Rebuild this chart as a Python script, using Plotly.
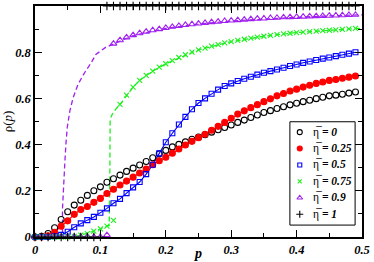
import plotly.graph_objects as go

# simulation abscissae (every 0.01)
p_sim = [round(0.01 * i, 2) for i in range(50)]

rho_eta0 = [0.0, 0.003, 0.015, 0.04, 0.076, 0.109, 0.138, 0.159, 0.18, 0.20,
            0.217, 0.237, 0.252, 0.268, 0.284, 0.298, 0.312, 0.327, 0.343, 0.36,
            0.375, 0.39, 0.401, 0.412, 0.423, 0.433, 0.443, 0.454, 0.464, 0.474,
            0.485, 0.496, 0.506, 0.517, 0.528, 0.539, 0.547, 0.556, 0.564, 0.572,
            0.579, 0.586, 0.592, 0.599, 0.605, 0.611, 0.614, 0.618, 0.623, 0.628]

rho_eta025 = [0.0, 0.0, 0.005, 0.02, 0.047, 0.07, 0.098, 0.119, 0.132, 0.15,
              0.167, 0.188, 0.207, 0.225, 0.242, 0.259, 0.277, 0.294, 0.313, 0.33,
              0.345, 0.363, 0.381, 0.398, 0.414, 0.43, 0.445, 0.462, 0.479, 0.496,
              0.514, 0.532, 0.546, 0.56, 0.573, 0.586, 0.598, 0.611, 0.621, 0.632,
              0.64, 0.649, 0.657, 0.665, 0.671, 0.678, 0.682, 0.687, 0.692, 0.697]

rho_eta05 = [0.0, 0.0, 0.0, 0.003, 0.009, 0.023, 0.042, 0.059, 0.073, 0.087,
             0.105, 0.124, 0.146, 0.165, 0.19, 0.215, 0.238, 0.272, 0.313, 0.362,
             0.41, 0.449, 0.487, 0.52, 0.553, 0.58, 0.60, 0.62, 0.638, 0.654,
             0.665, 0.675, 0.685, 0.694, 0.703, 0.711, 0.718, 0.725, 0.733, 0.74,
             0.747, 0.754, 0.76, 0.766, 0.772, 0.777, 0.783, 0.789, 0.794, 0.80]

rho_eta075 = [0.0, 0.0, 0.0, 0.0, 0.0, 0.0, 0.003, 0.008, 0.015, 0.025,
              0.035, 0.047, 0.072, 0.574, 0.614, 0.649, 0.678, 0.70, 0.718, 0.735,
              0.75, 0.764, 0.777, 0.789, 0.80, 0.81, 0.818, 0.826, 0.833, 0.84,
              0.846, 0.851, 0.856, 0.861, 0.865, 0.869, 0.873, 0.876, 0.879, 0.882,
              0.885, 0.887, 0.889, 0.891, 0.893, 0.895, 0.897, 0.899, 0.901, 0.903]

rho_eta09 = [0.0, 0.0, 0.0, 0.0, 0.0, 0.0, 0.0, 0.0, 0.0, 0.0,
             0.0, 0.008, 0.837, 0.852, 0.864, 0.874, 0.882, 0.889, 0.895, 0.90,
             0.905, 0.91, 0.914, 0.918, 0.921, 0.924, 0.927, 0.93, 0.932, 0.935,
             0.937, 0.939, 0.941, 0.943, 0.945, 0.946, 0.948, 0.949, 0.951, 0.952,
             0.953, 0.954, 0.955, 0.956, 0.957, 0.958, 0.959, 0.96, 0.961, 0.962]

rho_eta1 = [0.0] * 11 + [1.0] * 39

# theory curves (dashed)
p_th09 = [0.0, 0.042, 0.042, 0.0449, 0.0458, 0.0473, 0.0493, 0.0533, 0.0583, 0.0658,
          0.0758, 0.0859, 0.093, 0.108, 0.12, 0.15, 0.2, 0.25, 0.3, 0.35, 0.4, 0.45, 0.5]
rho_th09 = [0.0, 0.0, 0.12, 0.245, 0.331, 0.403, 0.474, 0.546, 0.603, 0.661,
            0.711, 0.754, 0.79, 0.821, 0.835, 0.872, 0.903, 0.922, 0.935, 0.944, 0.951, 0.957, 0.962]

p_th075 = [0.0, 0.05, 0.06, 0.07, 0.08, 0.09, 0.10, 0.11, 0.1135, 0.1145, 0.1149,
           0.1183, 0.1234, 0.13, 0.14, 0.15, 0.16, 0.18, 0.2, 0.25, 0.3, 0.35, 0.4, 0.45, 0.5]
rho_th075 = [0.0, 0.0, 0.003, 0.008, 0.015, 0.025, 0.035, 0.047, 0.05, 0.30, 0.51,
             0.532, 0.553, 0.574, 0.614, 0.649, 0.678, 0.718, 0.75, 0.81, 0.846, 0.869, 0.885, 0.895, 0.904]

labels = ["0", "0.25", "0.5", "0.75", "0.9", "1"]

BLACK = "#000000"
RED = "#ff0000"
BLUE = "#0000ff"
GREEN = "#1ef01e"
PURPLE = "#a020f0"
SERIF = "Liberation Serif, Times New Roman, serif"

fig = go.Figure()

# lines (no legend)
fig.add_trace(go.Scatter(x=p_th09, y=rho_th09, mode="lines", showlegend=False,
                         line=dict(color=PURPLE, width=1.3, dash="5px,3px")))
fig.add_trace(go.Scatter(x=p_th075, y=rho_th075, mode="lines", showlegend=False,
                         line=dict(color=GREEN, width=1.3, dash="5px,3px")))
fig.add_trace(go.Scatter(x=p_sim, y=rho_eta05, mode="lines", showlegend=False,
                         line=dict(color=BLUE, width=1.1)))
fig.add_trace(go.Scatter(x=p_sim, y=rho_eta025, mode="lines", showlegend=False,
                         line=dict(color=RED, width=1.1)))

series = [
    (rho_eta0, "circle-open", BLACK, 6),
    (rho_eta025, "circle", RED, 6),
    (rho_eta05, "square-open", BLUE, 5),
    (rho_eta075, "x-thin-open", GREEN, 5),
    (rho_eta09, "triangle-up-open", PURPLE, 6),
    (rho_eta1, "cross-thin-open", BLACK, 6),
]
for ys, sym, col, sz in series:
    fig.add_trace(go.Scatter(
        x=p_sim, y=ys, mode="markers", cliponaxis=False, showlegend=False,
        marker=dict(symbol=sym, color=col, size=sz, line=dict(color=col, width=1.1)),
    ))

# hand-made legend box (tight spacing like the original)
leg_x0, leg_x1, leg_y0, leg_y1 = 0.7795, 0.9789, 0.0516, 0.4989
row_top, row_step = 0.4538, 0.071
sym_x, txt_x = 0.8097, 0.8429
fig.add_shape(type="rect", xref="paper", yref="paper", x0=leg_x0, x1=leg_x1, y0=leg_y0, y1=leg_y1,
              line=dict(color="black", width=1), fillcolor="white", layer="below")
for i, ((ys, sym, col, sz), lab) in enumerate(zip(series, labels)):
    yrow = row_top - i * row_step
    fig.add_trace(go.Scatter(
        x=[sym_x], y=[yrow], xaxis="x2", yaxis="y2", mode="markers", showlegend=False,
        marker=dict(symbol=sym, color=col, size=sz - 1, line=dict(color=col, width=1.1)),
        hoverinfo="skip",
    ))
    fig.add_annotation(xref="paper", yref="paper", x=txt_x, y=yrow, xanchor="left", yanchor="middle",
                       showarrow=False, text="η\u0305<b><i> = " + lab + "</i></b>",
                       font=dict(family=SERIF, size=11.5, color="black"))

tickfont = dict(family=SERIF, size=12.5, color="black", weight="bold", style="italic")


def axis_style(rng, dtick, minor_dtick):
    return dict(
        range=rng, tick0=0, dtick=dtick, autorange=False,
        showline=True, linecolor="black", linewidth=1.5, mirror="allticks",
        ticks="inside", ticklen=7, tickwidth=1, tickcolor="black",
        showgrid=False, zeroline=False, tickfont=tickfont,
        minor=dict(dtick=minor_dtick, ticks="inside", ticklen=4, tickcolor="black", showgrid=False),
    )


fig.update_layout(
    width=374, height=262,
    margin=dict(l=35, r=8, t=4.5, b=25),
    plot_bgcolor="white", paper_bgcolor="white",
    showlegend=False,
    xaxis=axis_style([0, 0.5], 0.1, 0.05),
    yaxis=axis_style([0, 1], 0.2, 0.1),
    xaxis2=dict(overlaying="x", range=[0, 1], autorange=False, visible=False, anchor="y2"),
    yaxis2=dict(overlaying="y", range=[0, 1], autorange=False, visible=False, anchor="x2"),
)

# axis titles
fig.add_annotation(xref="paper", yref="paper", x=0.4985, y=-0.073, xanchor="center", yanchor="middle",
                   showarrow=False, text="<b><i>p</i></b>", font=dict(family=SERIF, size=14, color="black"))
fig.add_annotation(xref="paper", yref="paper", x=-0.083, y=0.50, xanchor="center", yanchor="middle",
                   showarrow=False, textangle=-90, text="ρ(<i>p</i>)",
                   font=dict(family=SERIF, size=13, color="black"))

fig.write_html("out.html", config={"displayModeBar": False},
               post_script="document.body.style.margin='0px';")
